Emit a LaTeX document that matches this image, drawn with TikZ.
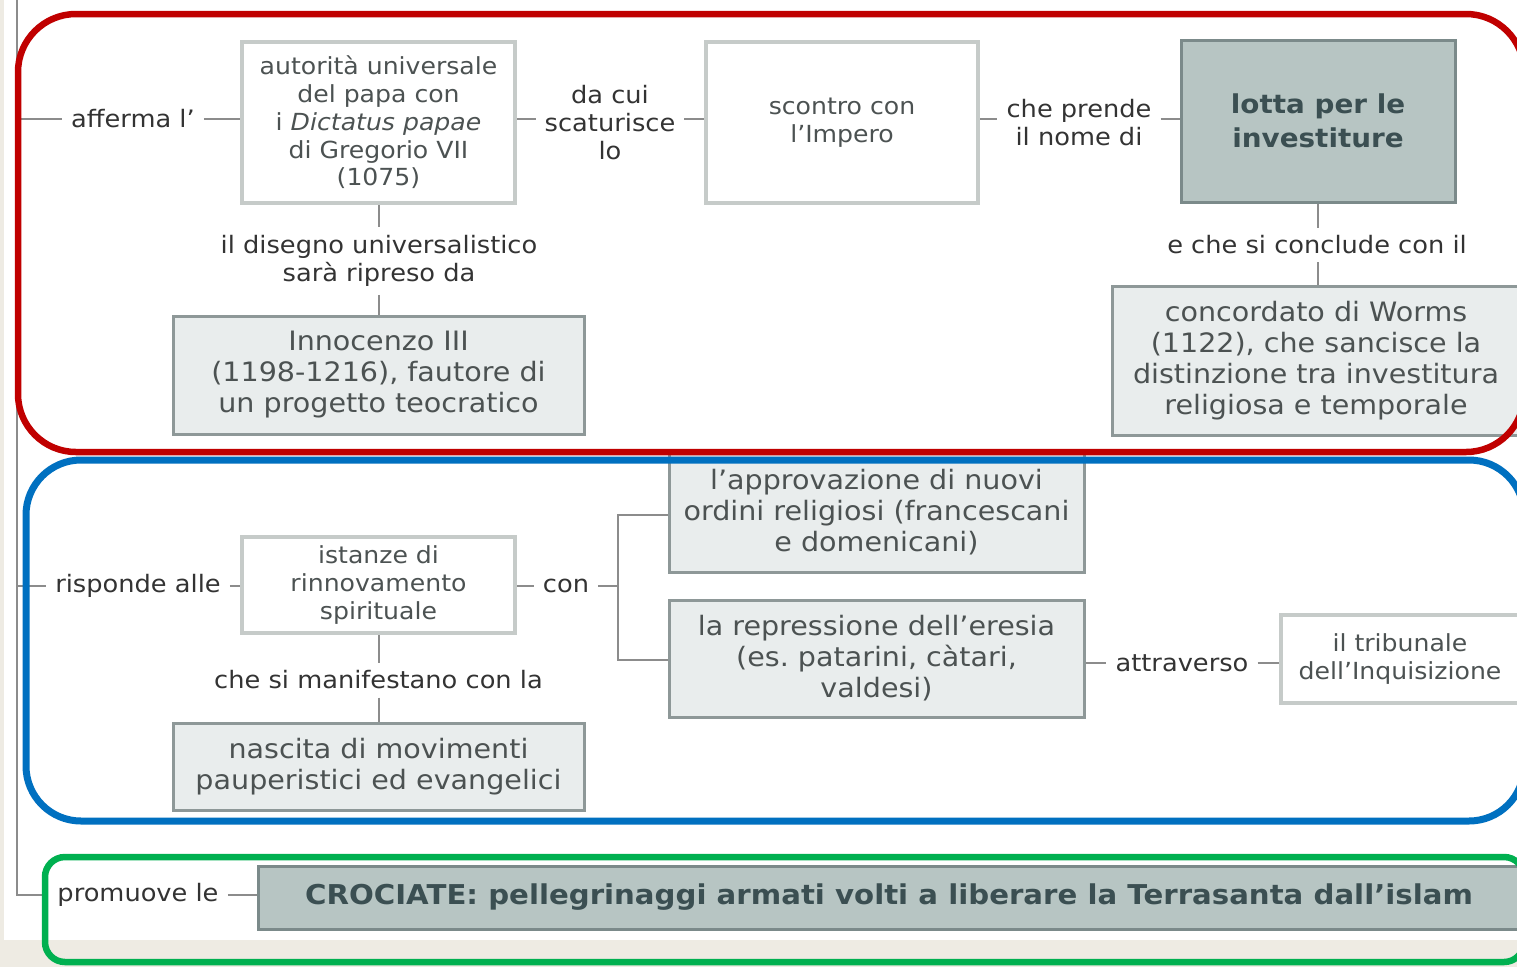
\documentclass[tikz,border=0pt]{standalone}
\usepackage{fontspec}
\setmainfont{DejaVu Sans}[FakeStretch=1.07]
\usetikzlibrary{backgrounds}
\definecolor{beige}{HTML}{EEEBE3}
\definecolor{framered}{HTML}{C00000}
\definecolor{frameblue}{HTML}{0070C0}
\definecolor{framegreen}{HTML}{00B050}
\definecolor{lightborder}{HTML}{C6CBC9}
\definecolor{midborder}{HTML}{8E9898}
\definecolor{midfill}{HTML}{E9EDED}
\definecolor{darkborder}{HTML}{7B8A8A}
\definecolor{darkfill}{HTML}{B7C5C3}
\definecolor{boxtext}{HTML}{4C5252}
\definecolor{boldtext}{HTML}{3B4F52}
\definecolor{labtext}{HTML}{333333}
\definecolor{linegray}{HTML}{8C8C8C}
\frenchspacing
\begin{document}
\begin{tikzpicture}[x=1pt,y=-1pt,
  wbox/.style={draw=lightborder, fill=white, line width=3.5pt, inner sep=0pt, align=center, text=boxtext, font=\fontsize{23.5}{27.7}\selectfont},
  gbox/.style={draw=midborder, fill=midfill, line width=3pt, inner sep=0pt, align=center, text=boxtext, font=\fontsize{26.7}{31}\selectfont},
  dbox/.style={draw=darkborder, fill=darkfill, line width=3pt, inner sep=0pt, align=center, text=boldtext, font=\bfseries\fontsize{26}{34}\selectfont},
  lab/.style={text=labtext, align=center, inner xsep=9pt, inner ysep=8pt, font=\fontsize{24}{28}\selectfont},
  conn/.style={draw=linegray, line width=2pt},
  frame/.style={line width=6.5pt}]
\useasboundingbox (0,0) rectangle (1517,967);

% boxes
\node[wbox, minimum width=273pt, minimum height=161pt] (B1) at (378.5,122.5)
  {autorità universale\\del papa con\\i \textit{Dictatus papae}\\di Gregorio VII\\(1075)};
\node[wbox, minimum width=272pt, minimum height=161pt] (B2) at (842,122.5)
  {scontro con\\l’Impero};
\node[dbox, minimum width=274pt, minimum height=162pt] (B3) at (1318,121)
  {lotta per le\\investiture};
\node[gbox, minimum width=408pt, minimum height=149pt] (B4) at (1316,360.5)
  {concordato di Worms\\(1122), che sancisce la\\distinzione tra investitura\\religiosa e temporale};
\node[gbox, minimum width=411pt, minimum height=118pt] (B5) at (378.5,375)
  {Innocenzo III\\(1198-1216), fautore di\\un progetto teocratico};
\node[wbox, minimum width=273pt, minimum height=96pt] (B6) at (378.5,585)
  {istanze di\\rinnovamento\\spirituale};
\node[gbox, minimum width=415pt, minimum height=120pt] (B7) at (876.5,512)
  {l’approvazione di nuovi\\ordini religiosi (francescani\\e domenicani)};
\node[gbox, minimum width=415pt, minimum height=117pt] (B8) at (876.5,658.5)
  {la repressione dell’eresia\\(es. patarini, càtari,\\valdesi)};
\node[wbox, minimum width=238pt, minimum height=88pt] (B9) at (1400,659)
  {il tribunale\\dell’Inquisizione};
\node[gbox, minimum width=411pt, minimum height=87pt] (B10) at (378.5,766.5)
  {nascita di movimenti\\pauperistici ed evangelici};
\node[dbox, font=\bfseries\fontsize{27.3}{34}\selectfont, minimum width=1262pt, minimum height=63pt] (B11) at (889,897.5)
  {CROCIATE: pellegrinaggi armati volti a liberare la Terrasanta dall’islam};

% labels
\node[lab] (L1) at (133,119) {afferma l’};
\node[lab] (L2) at (610,123) {da cui\\scaturisce\\lo};
\node[lab] (L3) at (1079,123) {che prende\\il nome di};
\node[lab] (L4) at (379,261) {il disegno universalistico\\sarà ripreso da};
\node[lab] (L5) at (1317,245) {e che si conclude con il};
\node[lab] (L6) at (138,586) {risponde alle};
\node[lab] (L7) at (566,586) {con};
\node[lab] (L8) at (378.5,680) {che si manifestano con la};
\node[lab] (L9) at (1182,663) {attraverso};
\node[lab] (L10) at (138,895) {promuove le};

% trunk coordinates
\coordinate (t0) at (17,0);
\coordinate (t1) at (17,119);
\coordinate (t2) at (17,586);
\coordinate (t3) at (17,895);
\coordinate (br) at (618,586);

\begin{scope}[on background layer]
\fill[beige] (0,0) rectangle (1517,967);
\fill[white] (4,0) rectangle (1517,940);
\draw[conn] (t0) -- (t3) -- (L10.west);
\draw[conn] (t1) -- (L1.west);
\draw[conn] (t2) -- (L6.west);
\draw[conn] (L1.east) -- (L1.east -| B1.west);
\draw[conn] (B1.east |- L1.east) -- (L2.west |- L1.east);
\draw[conn] (L2.east |- L1.east) -- (B2.west |- L1.east);
\draw[conn] (B2.east |- L1.east) -- (L3.west |- L1.east);
\draw[conn] (L3.east |- L1.east) -- (B3.west |- L1.east);
\draw[conn] (B1.south) -- (B1.south |- L4.north);
\draw[conn] (B5.north |- L4.south) -- (B5.north);
\draw[conn] (B3.south) -- (B3.south |- L5.north);
\draw[conn] (B3.south |- L5.south) -- (B3.south |- B4.north);
\draw[conn] (L6.east) -- (B6.west |- L6.east);
\draw[conn] (B6.east |- L7.west) -- (L7.west);
\draw[conn] (L7.east) -- (br);
\draw[conn] (br) |- (B7.west |- 0,515);
\draw[conn] (br) |- (B8.west |- 0,660);
\draw[conn] (B6.south) -- (B6.south |- L8.north);
\draw[conn] (B10.north |- L8.south) -- (B10.north);
\draw[conn] (B8.east |- L9.west) -- (L9.west);
\draw[conn] (L9.east) -- (B9.west |- L9.east);
\draw[conn] (L10.east) -- (B11.west |- L10.east);
\end{scope}

% coloured frames
\draw[frame, draw=framered, rounded corners=58pt] (18,14) rectangle (1524,452);
\draw[frame, draw=frameblue, line width=7pt, rounded corners=55pt] (26,460) rectangle (1524,821);
\draw[frame, draw=framegreen, rounded corners=20pt] (45,857) rectangle (1524,962);
\end{tikzpicture}
\end{document}
